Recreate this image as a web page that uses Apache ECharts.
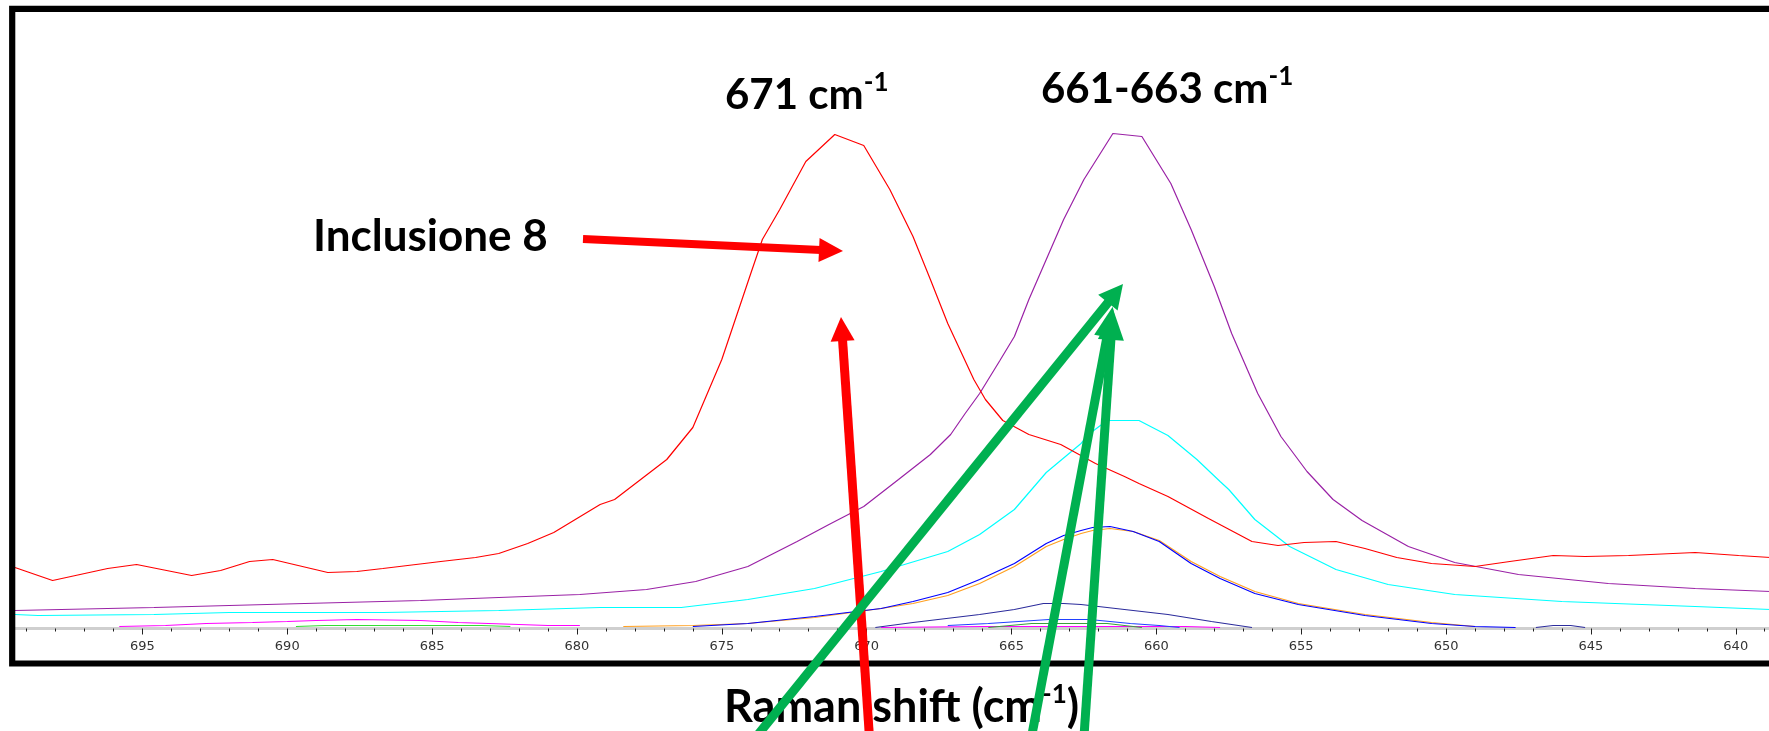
<!DOCTYPE html>
<html>
<head>
<meta charset="utf-8">
<script src="https://cdn.jsdelivr.net/npm/echarts@6/dist/echarts.min.js"></script>
<style>
html,body{margin:0;padding:0;background:#fff;overflow:hidden;width:1769px;height:731px;}
#chart{position:absolute;left:-10px;top:0;width:1900px;height:731px;}
</style>
</head>
<body>
<div id="chart"></div>
<script>
// Raman shift (cm-1) vs intensity (a.u.)
const redSpectrum = [[699.4,61],[698.1,48],[696.2,60],[695.2,64],[693.3,53],[692.3,58],[691.3,67],[690.5,69],[688.6,56],[687.6,57],[686.7,60],[684.7,67],[683.5,71],[682.7,75],[681.7,85],[680.8,96],[680.0,110],[679.2,124],[678.7,129],[677.8,149],[676.9,169],[676.0,201],[675.5,235],[675.0,269],[674.5,312],[674.0,355],[673.6,389],[673.0,419],[672.1,467],[671.1,494],[670.1,483],[669.2,439],[668.4,392],[667.8,349],[667.2,305],[666.3,249],[665.9,229],[665.3,208],[664.4,194],[663.3,184],[662.1,165],[661.1,152],[660.6,145],[659.6,132],[658.2,110],[656.7,87],[655.8,83],[654.9,86],[653.8,87],[652.8,80],[651.7,71],[650.5,65],[649.0,62],[647.8,67],[646.3,73],[645.2,72],[643.7,73],[641.4,76],[639.9,73],[638.8,71]];
const purpleSpectrum = [[699.4,18],[694.6,21],[689.4,25],[685.4,28],[682.7,31],[679.9,34],[677.6,39],[675.9,47],[674.1,62],[672.4,87],[671.3,104],[670.1,122],[668.9,149],[667.8,174],[667.1,194],[666.6,215],[666.1,235],[665.4,268],[664.9,292],[664.4,329],[663.8,369],[663.2,409],[662.5,449],[661.5,495],[660.5,492],[659.5,445],[658.8,399],[658.0,342],[657.4,295],[656.5,235],[655.7,192],[654.8,157],[653.9,129],[652.9,108],[651.3,82],[649.7,66],[647.5,54],[644.4,45],[641.4,40],[638.8,37]];
const cyanSpectrum = [[699.4,14],[698.6,13],[694.6,14],[692.0,16],[686.7,16],[682.7,18],[679.2,21],[676.4,21],[674.1,29],[671.8,40],[669.5,57],[667.2,77],[666.1,94],[664.9,119],[663.8,156],[662.6,185],[662.3,195],[661.7,208],[660.6,208],[659.6,193],[658.6,169],[657.8,147],[657.5,139],[656.6,109],[655.4,82],[653.8,59],[652.0,44],[649.7,34],[646.0,27],[641.4,22],[638.8,19]];
const orangeSpectrum = [[678.4,2],[676.0,3],[674.1,5],[671.8,11],[669.5,20],[668.4,25],[667.2,33],[666.1,45],[664.9,62],[663.8,82],[663.2,89],[662.6,95],[662.2,98],[661.6,100],[660.8,97],[659.9,88],[658.8,67],[657.8,52],[656.6,37],[655.1,25],[652.8,14],[650.5,6],[649.0,2]];
const blueSpectrum = [[676.0,2],[674.1,5],[671.8,12],[669.5,20],[668.4,27],[667.2,36],[666.1,49],[664.9,65],[663.8,85],[663.2,93],[662.6,98],[662.2,101],[661.6,102],[660.8,97],[659.9,87],[658.8,65],[657.8,50],[656.6,35],[655.1,24],[652.8,13],[650.5,5],[649.0,2],[647.6,1]];
const navySpectrum = [[669.7,1],[668.4,6],[666.1,14],[664.9,19],[663.9,25],[663.2,25],[662.6,24],[661.1,19],[659.6,14],[658.1,7],[656.7,1]];
const navyBump = [[646.9,1],[646.3,3],[645.7,3],[645.2,1]];
const smallBlueSpectrum = [[667.2,3],[665.8,5],[663.7,9],[662.3,9],[660.9,5],[659.9,3],[659.2,1]];
const greenRight = [[665.8,1],[664.3,5],[661.7,5],[660.5,1]];
const greenLeft = [[689.7,2],[688.7,3],[683.3,3],[682.3,2]];
const magentaLeft = [[695.8,2],[694.2,3],[692.8,5],[691.2,6],[690.0,7],[689.0,8],[687.6,9],[685.4,8],[684.1,6],[682.0,4],[681.0,3],[679.9,3]];
const magentaRight = [[669.5,1],[666.0,2],[662.0,2],[659.0,2],[657.8,1]];
const tickLabels = [640,645,650,655,660,665,670,675,680,685,690,695];

const chart = echarts.init(document.getElementById('chart'));
const OX = 10; // container is shifted 10px left of the page

function ln(data, color, z) {
  return {type:'line', data:data, symbol:'none', z:z||2, silent:true,
    lineStyle:{color:color, width:1.2}, itemStyle:{color:color}, animation:false};
}

function arrow(x1, y1, x2, y2, color, w, hl, hw) {
  x1 += OX; x2 += OX;
  const dx = x2 - x1, dy = y2 - y1, L = Math.sqrt(dx*dx + dy*dy);
  const ux = dx / L, uy = dy / L, px = -uy, py = ux;
  const bx = x2 - ux*hl, by = y2 - uy*hl;
  return [
    {type:'line', z:60, shape:{x1:x1, y1:y1, x2:bx + ux*2, y2:by + uy*2},
      style:{stroke:color, lineWidth:w}},
    {type:'polygon', z:60, shape:{points:[[x2,y2],[bx+px*hw/2, by+py*hw/2],[bx-px*hw/2, by-py*hw/2]]},
      style:{fill:color}}
  ];
}

const FONT = 'Lato';
function richTitle(x, y, main, sup, fs, supLH, tail) {
  return {type:'text', z:55, x:x + OX, y:y, style:{
    text:'{a|' + main + '}{b|' + sup + '}' + (tail ? '{a|' + tail + '}' : ''),
    rich:{
      a:{fontSize:fs, fontWeight:'bold', fontFamily:FONT, lineHeight:50, fill:'#000'},
      b:{fontSize:26, fontWeight:'bold', fontFamily:FONT, lineHeight:supLH, verticalAlign:'top', fill:'#000'}
    },
    verticalAlign:'top'
  }};
}

const RED = '#ff0000', GREEN = '#00b050';
const graphics = [
  {type:'rect', z:49, shape:{x:0, y:560, width:OX + 10, height:110}, style:{fill:'#fff'}},
  {type:'rect', z:50, shape:{x:12.2 + OX, y:8.8, width:1850, height:654.7}, style:{fill:'none', stroke:'#000', lineWidth:6.2}},
  richTitle(725, 70, '671 cm', '-1', 42, 34),
  richTitle(1041, 64, '661-663 cm', '-1', 42, 34),
  {type:'text', z:55, x:313 + OX, y:212, style:{text:'Inclusione 8', fontSize:44, fontWeight:'bold', fontFamily:FONT, fill:'#000', lineHeight:50, verticalAlign:'top'}},
  richTitle(724, 682, 'Raman shift (cm', '-1', 45, 38, ')')
].concat(
  arrow(583, 239, 843, 251, RED, 8, 24, 24),
  arrow(870, 745, 841, 317, RED, 9, 24, 24),
  arrow(752, 742, 1123, 284, GREEN, 9, 24, 25),
  arrow(1030, 745, 1112.7, 306.7, GREEN, 9, 31, 26),
  arrow(1083.4, 745, 1113, 309, GREEN, 9, 31, 26)
);

chart.setOption({
  animation:false,
  backgroundColor:'#fff',
  grid:{left:7.55, right:9.4, top:12, bottom:102.5, containLabel:false},
  xAxis:{type:'value', inverse:true, min:635, max:700, interval:5,
    axisLine:{show:true, lineStyle:{color:'#cfcfcf', width:3}},
    axisTick:{show:true, length:6, lineStyle:{color:'#222', width:1}},
    minorTick:{show:true, splitNumber:5, length:3, lineStyle:{color:'#222', width:1}},
    splitLine:{show:false}, minorSplitLine:{show:false},
    axisLabel:{margin:12, fontSize:13, color:'#333', fontFamily:'DejaVu Sans',
      formatter:function(v){ return tickLabels.indexOf(v) >= 0 ? String(v) : ''; }}
  },
  yAxis:{type:'value', min:0, max:616.5, show:false},
  series:[
    ln(magentaLeft, '#ff00ff'),
    ln(magentaRight, '#ff00ff'),
    ln(greenLeft, '#33dd33'),
    ln(greenRight, '#3aa03a'),
    ln(smallBlueSpectrum, '#2040ff'),
    ln(navySpectrum, '#2c2c9c'),
    ln(navyBump, '#2c2c9c'),
    ln(orangeSpectrum, '#ffa020'),
    ln(blueSpectrum, '#0000ff'),
    ln(cyanSpectrum, '#00ffff'),
    ln(purpleSpectrum, '#9a22a6'),
    ln(redSpectrum, '#ff0000')
  ],
  graphic:graphics
});
</script>
</body>
</html>
